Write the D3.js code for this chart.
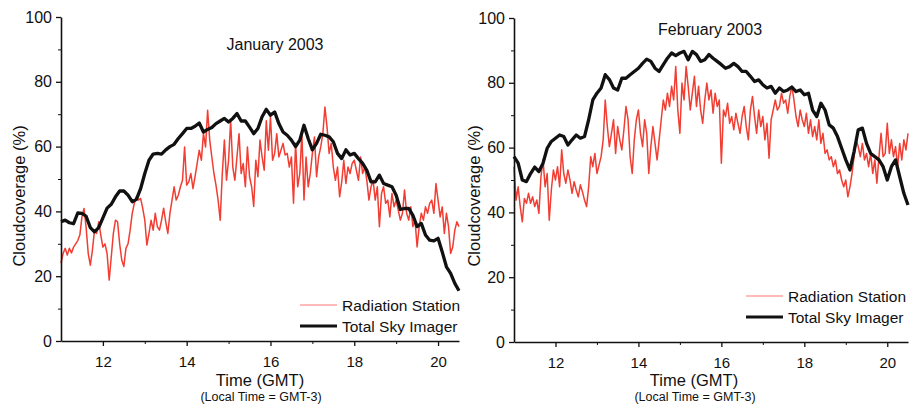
<!DOCTYPE html>
<html>
<head>
<meta charset="utf-8">
<script src="https://cdn.jsdelivr.net/npm/d3@7"></script>
<style>
  body { margin: 0; background: #fff; }
  svg { display: block; font-family: "Liberation Sans", Arial, sans-serif; }
  .axis path, .axis line { stroke: #111; }
  .axis text { fill: #111; font-size: 15px; font-family: "Liberation Sans", Arial, sans-serif; }
</style>
</head>
<body>
<svg id="svg" width="910" height="408"></svg>
<script>
// sampling grids (hours GMT)
var radiationTimes = d3.range(0, 191).map(function (i) { return 11 + i * 0.05; });
var imagerTimes = d3.range(0, 96).map(function (i) { return 11 + i * 0.1; });

var yTicks = [0, 20, 40, 60, 80, 100];
var yMinorTicks = [10, 30, 50, 70, 90];
var xTicks = [12, 14, 16, 18, 20];
var xMinorTicks = [13, 15, 17, 19];
var seriesNames = ["Radiation Station", "Total Sky Imager"];

// January 2003
var janRadiation = [
  24, 27, 28.6, 26.5, 28.6, 27.2, 29, 30, 31, 32.7, 38.3, 40.9, 35, 27, 23.4, 28, 34.2, 33.2, 36.8, 32.7,
  29, 30, 27, 18.8, 26, 33.2, 37.3, 36.8, 30, 25, 23, 28.6, 30, 34.2, 39.4, 42.5, 44.5, 43.5, 44, 41,
  37.3, 29.6, 33.2, 37.3, 34.2, 39.4, 35.3, 34.2, 37.3, 41, 36.8, 33.2, 39.4, 43.5, 47.6, 43.5, 45, 47.6, 49.6, 59.9,
  48.1, 49.1, 51.7, 47, 50.7, 54.8, 58.9, 55.8, 64, 59.9, 71.2, 62, 56.8, 51.7, 48, 43.5, 37.3, 51.7, 62, 49.6,
  55.8, 68, 53.7, 49.6, 56.8, 64, 51.7, 54.8, 47.6, 59.9, 50.7, 47.6, 41.5, 55.8, 50.7, 62, 56.8, 52.7, 68, 58.9,
  69.2, 55.8, 57.9, 64, 56.8, 58.9, 61, 57.4, 57.9, 53.7, 56.8, 42.5, 61, 47.6, 51.7, 64, 43.5, 56.8, 47.6, 51.7,
  57.9, 63, 50.7, 56.8, 59.9, 64, 72.2, 66, 57.9, 61, 53.7, 49.6, 53.7, 44.5, 49, 55.8, 48.6, 53.7, 51.7, 54.8,
  55.8, 52.7, 49.6, 56.8, 51.7, 53.7, 49.6, 43.5, 47.6, 49.6, 43.5, 47.6, 35.3, 45.5, 47.6, 42.5, 43.5, 38.3, 45.5, 41.4,
  43.5, 40.4, 37.3, 39.4, 46.6, 39.4, 37.3, 41.4, 35.3, 37.3, 29, 35.3, 39.4, 37.3, 41.4, 39.4, 42.5, 43.5, 39.4, 48.6,
  43.5, 38.3, 41.4, 33.2, 39.4, 35.3, 27, 29, 34.2, 36.8, 35.3
];
var janImager = [
  36.8, 37.3, 36.5, 36.2, 39.5, 39.4, 38.5, 35, 33.7, 35,
  38, 41, 42.2, 44.5, 46.3, 46.3, 45, 43, 43.7, 47,
  51.7, 55.8, 57.7, 57.9, 57.7, 59, 60, 60.7, 62.5, 64,
  65.6, 65.6, 66.3, 67.3, 64.5, 65.3, 65.9, 67.1, 67.9, 68.7,
  67.6, 68.7, 70.2, 67.9, 67.9, 66, 64, 65.6, 69.2, 71.5,
  69.7, 70.7, 67.1, 64.5, 63.5, 62, 60, 62, 66.6, 62.5,
  59, 61, 63.8, 63.5, 63, 61.5, 57.9, 56.3, 59, 57.4,
  57.9, 56.3, 54.8, 52.7, 49.1, 49.1, 51.2, 48.6, 48.1, 47.6,
  45, 40.6, 40.9, 40.9, 38.8, 35.3, 36.3, 32.7, 31.1, 30.9,
  31.7, 27.5, 22.9, 20.9, 17.8, 15.5
];

// February 2003
var febRadiation = [
  54.1, 43.8, 47.9, 41.8, 37.1, 44.3, 42.8, 45.9, 42.8, 44.8, 41.8, 43.8, 39.7, 51, 56.2, 47.9, 52, 37.6, 46.9, 53.1,
  50, 54.1, 47.9, 59.3, 52, 49, 53.1, 50, 45.9, 49.5, 46.9, 44.8, 48.5, 46.4, 43.8, 41.8, 47.9, 57.2, 54.1, 58.2,
  52, 54.6, 57.2, 62.4, 74.7, 66.5, 60.3, 64.4, 68.6, 58.2, 66.5, 62.4, 59.3, 65.5, 72.7, 68.6, 57.2, 52, 62.4, 68.6,
  71.6, 64.4, 60.3, 68.6, 64.4, 52, 60.3, 66.5, 61.3, 56.2, 62.4, 68.6, 74.7, 71.6, 76.8, 72.7, 78.9, 74.7, 85, 71.6,
  64.4, 79.9, 74.7, 85, 78.9, 71.6, 76.8, 82, 72.7, 78.9, 71.6, 67.5, 74.7, 79.9, 74.7, 77.8, 70.6, 76.8, 72.7, 74.7,
  55.2, 71.6, 69.6, 73.7, 67.5, 69.6, 65.5, 70.6, 67.5, 64.4, 69.6, 72.7, 66.5, 62.4, 71.6, 75.8, 69.6, 64.4, 71.6, 66.5,
  69.6, 62.4, 67.5, 56.7, 68.6, 71.6, 74.7, 71.6, 72.7, 76.8, 73.7, 74.7, 70.6, 75.8, 78.9, 74.7, 69.6, 66.5, 71.6, 68.6,
  66.5, 70.6, 64.4, 68.6, 63.4, 66.5, 62.4, 68.6, 61.3, 64.4, 58.2, 59.3, 56.2, 57.2, 54.1, 56.2, 52, 53.1, 50, 47.9,
  50, 44.8, 47.9, 52, 57.2, 62.4, 60.3, 57.2, 61.3, 56.2, 58.2, 54.1, 58.2, 52, 56.2, 49, 57.2, 64.4, 57.2, 58.2,
  67.5, 58.2, 62.4, 57.2, 60.3, 54.1, 61.3, 56.2, 62.4, 59.3, 64.4
];
var febImager = [
  57.2, 55.2, 50, 49.5, 52, 54, 52.6, 55.2, 59.8, 61.9,
  62.9, 63.9, 63.4, 60.8, 62.4, 63.9, 62.9, 63.4, 68.6, 74.7,
  76.8, 78.4, 82.5, 81, 78.4, 77.8, 81.4, 81.4, 82.5, 83.5,
  84.5, 86, 87.3, 86.6, 84.5, 83.5, 85.6, 87.6, 89.2, 88.4,
  89.2, 89.7, 87.1, 89.7, 88.7, 86.6, 87.1, 88.7, 87.6, 86.6,
  85.6, 84.5, 85, 86, 85, 83.5, 83.5, 82, 80.4, 80.9,
  79.4, 78.4, 78.9, 76.8, 78.4, 77.3, 77.8, 78.7, 77.3, 77.8,
  76.3, 76.8, 71.6, 69.6, 73.7, 71.6, 67, 66, 63.4, 59.8,
  56.2, 53.1, 58.8, 65.5, 66, 61.3, 58.2, 57.2, 56.2, 54.1,
  50, 54.1, 56.2, 51, 45.9, 42.3
];

var svg = d3.select("#svg");
svg.append("rect").attr("width", 910).attr("height", 408).attr("fill", "#fff");

function toPoints(times, values) {
  return values.map(function (v, i) { return {t: times[i], v: v}; });
}

function drawPanel(p) {
  var x = d3.scaleLinear().domain([11, 20.5]).range([p.left, p.right]),
      y = d3.scaleLinear().domain([0, 100]).range([p.bottom, p.top]);

  var line = d3.line()
    .x(function (d) { return x(d.t); })
    .y(function (d) { return y(d.v); });

  var g = svg.append("g");

  g.append("path")
    .datum(toPoints(radiationTimes, p.radiation))
    .attr("fill", "none")
    .attr("stroke", "#f0281c")
    .attr("stroke-opacity", 0.9)
    .attr("stroke-width", 1.5)
    .attr("stroke-linejoin", "round")
    .attr("d", line);

  g.append("path")
    .datum(toPoints(imagerTimes, p.imager))
    .attr("fill", "none")
    .attr("stroke", "#111")
    .attr("stroke-width", 3.3)
    .attr("stroke-linejoin", "round")
    .attr("d", line);

  // minor ticks
  g.append("g")
    .attr("class", "axis")
    .attr("transform", "translate(" + p.left + ",0)")
    .call(d3.axisLeft(y).tickValues(yMinorTicks).tickSize(3).tickSizeOuter(0).tickFormat(""))
    .select(".domain").remove();
  g.append("g")
    .attr("class", "axis")
    .attr("transform", "translate(0," + p.bottom + ")")
    .call(d3.axisBottom(x).tickValues(xMinorTicks).tickSize(3).tickSizeOuter(0).tickFormat(""))
    .select(".domain").remove();

  var yAxis = g.append("g")
    .attr("class", "axis")
    .attr("transform", "translate(" + p.left + ",0)")
    .call(d3.axisLeft(y).tickValues(yTicks).tickSize(5).tickSizeOuter(0).tickPadding(4));
  yAxis.select(".domain").attr("stroke-width", 1.6);
  yAxis.selectAll(".tick line").attr("stroke-width", 1.3);
  yAxis.selectAll("text").style("font-size", "16px");

  var xAxis = g.append("g")
    .attr("class", "axis")
    .attr("transform", "translate(0," + p.bottom + ")")
    .call(d3.axisBottom(x).tickValues(xTicks).tickSize(5).tickSizeOuter(0).tickPadding(10));
  xAxis.select(".domain").attr("stroke-width", 1.6);
  xAxis.selectAll(".tick line").attr("stroke-width", 1.3);

  g.append("text")
    .attr("transform", "translate(" + p.yTitleX + ",196) rotate(-90)")
    .attr("text-anchor", "middle")
    .attr("font-size", 16.5)
    .attr("fill", "#111")
    .text("Cloudcoverage (%)");

  g.append("text")
    .attr("x", p.titleX)
    .attr("y", p.titleY)
    .attr("text-anchor", "middle")
    .attr("font-size", 16)
    .attr("fill", "#111")
    .text(p.title);

  g.append("text")
    .attr("x", p.xTitleX)
    .attr("y", 386)
    .attr("text-anchor", "middle")
    .attr("font-size", 16.5)
    .attr("fill", "#111")
    .text("Time (GMT)");

  g.append("text")
    .attr("x", p.xTitleX + 1)
    .attr("y", 401)
    .attr("text-anchor", "middle")
    .attr("font-size", 12.5)
    .attr("fill", "#111")
    .text("(Local Time = GMT-3)");

  // legend
  var legend = g.append("g")
    .selectAll("g")
    .data(seriesNames)
    .enter()
    .append("g")
    .attr("transform", function (d, i) {
      return "translate(" + p.legendX + "," + (p.legendY + i * 21) + ")";
    });

  legend.append("line")
    .attr("x1", 0)
    .attr("x2", 37)
    .attr("stroke", function (d, i) { return i === 0 ? "#f77" : "#111"; })
    .attr("stroke-width", function (d, i) { return i === 0 ? 1.2 : 3; });

  legend.append("text")
    .attr("x", 42)
    .attr("dy", "0.36em")
    .attr("font-size", 15.5)
    .attr("fill", "#111")
    .text(function (d) { return d; });
}

drawPanel({
  left: 61, right: 459, top: 17, bottom: 341,
  radiation: janRadiation, imager: janImager,
  title: "January 2003", titleX: 275, titleY: 50,
  yTitleX: 25, xTitleX: 260,
  legendX: 300, legendY: 305
});

drawPanel({
  left: 514, right: 908, top: 18, bottom: 342,
  radiation: febRadiation, imager: febImager,
  title: "February 2003", titleX: 710, titleY: 35,
  yTitleX: 480, xTitleX: 694,
  legendX: 746, legendY: 296
});
</script>
</body>
</html>
